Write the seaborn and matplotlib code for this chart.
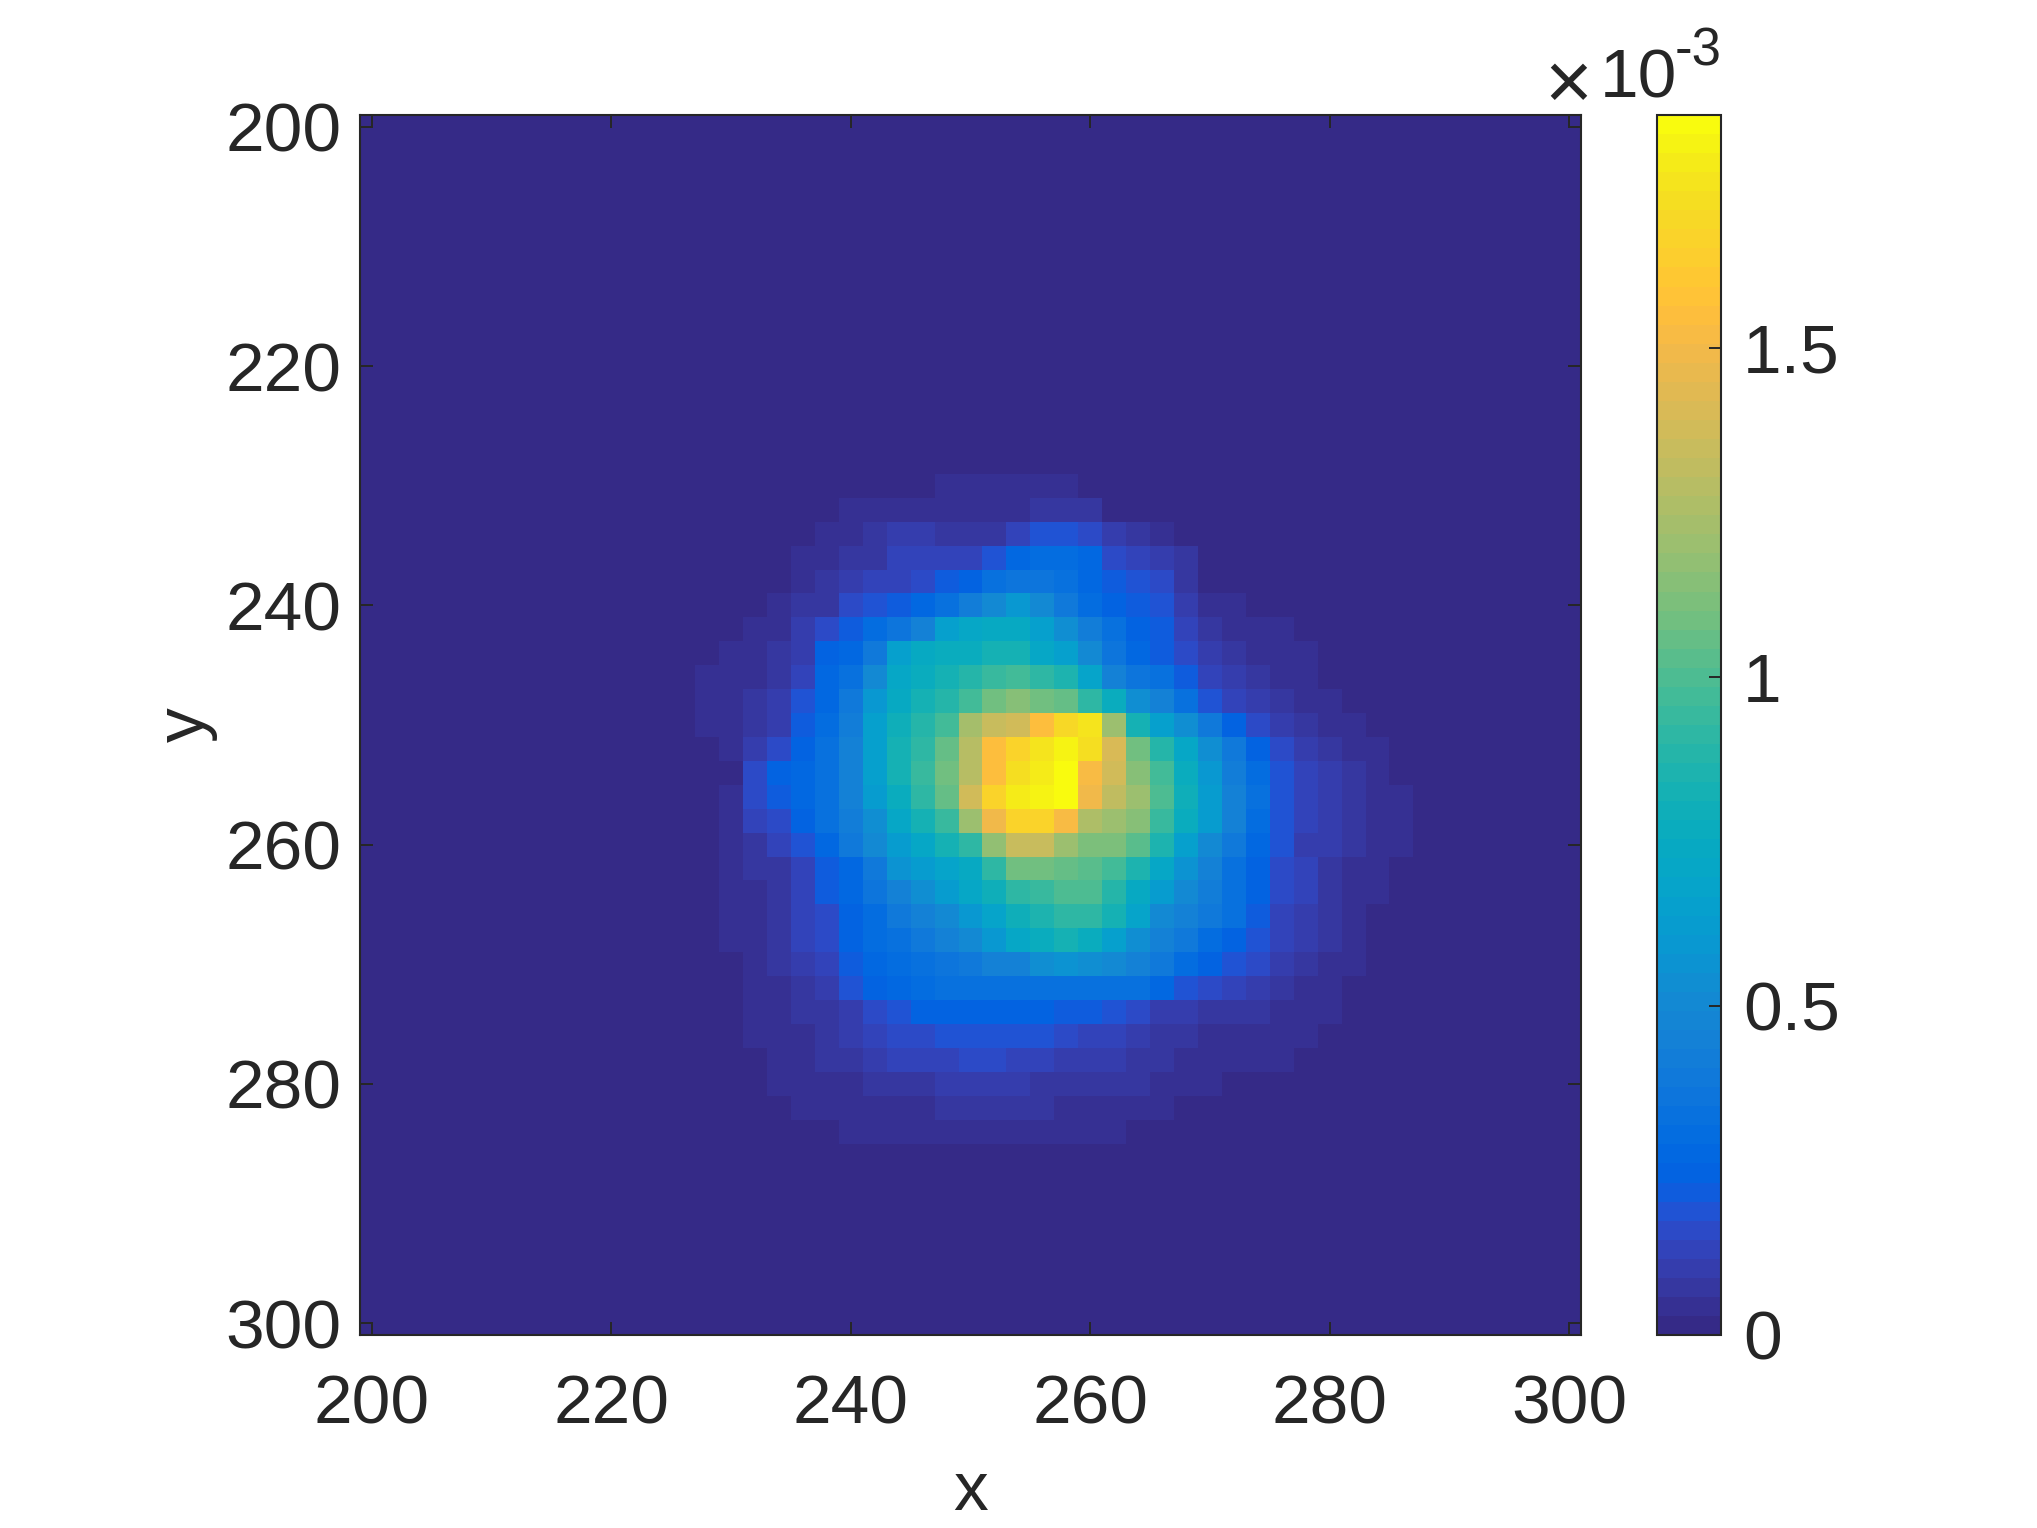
import numpy as np
import pandas as pd
import matplotlib
matplotlib.use("Agg")
import matplotlib.pyplot as plt
from matplotlib.colors import ListedColormap
import seaborn as sns

# cell centres of the image (2 unit cells, whole axis)
x_cells = list(range(200, 301, 2))
y_cells = list(range(200, 301, 2))

# part of the image that is not background (unit 1e-5)
core_x = list(range(228, 287, 2))
core_y = list(range(228, 287, 2))
core_values = [
    [0,0,0,0,0,0,0,0,0,0,0,0,0,0,0,0,0,0,0,0,0,0,0,0,0,0,0,0,0,0],
    [0,0,0,0,0,0,0,0,0,0,4,4,4,4,4,3,0,0,0,0,0,0,0,0,0,0,0,0,0,0],
    [0,0,0,0,0,0,4,4,5,5,4,4,4,5,7,7,6,2,0,0,0,0,0,0,0,0,0,0,0,0],
    [0,0,0,0,0,4,4,7,10,10,7,7,8,12,19,19,16,10,7,4,0,0,0,0,0,0,0,0,0,0],
    [0,0,0,0,4,4,7,8,13,13,13,13,19,28,31,31,28,16,13,10,6,0,0,0,0,0,0,0,0,0],
    [0,0,0,0,4,6,10,12,14,16,22,26,33,36,36,33,28,22,19,16,8,0,0,0,0,0,0,0,0,0],
    [0,0,0,4,6,8,16,18,22,28,33,42,52,58,50,40,31,25,22,19,11,4,4,0,0,0,0,0,0,0],
    [0,0,4,5,11,16,22,30,36,46,65,70,74,74,66,54,42,32,26,22,14,7,4,4,4,0,0,0,0,0],
    [2,4,4,6,10,25,28,38,65,75,76,78,82,83,72,64,50,36,28,22,16,11,7,5,4,3,0,0,0,0],
    [4,4,5,7,14,28,34,52,70,78,82,88,95,98,92,86,68,46,36,32,22,14,10,7,5,4,0,0,0,0],
    [4,4,7,9,18,27,40,60,74,82,88,98,108,113,110,106,90,76,55,46,34,19,13,9,6,5,3,0,0,0],
    [4,5,8,11,22,31,42,66,80,88,98,122,135,139,155,170,176,120,82,66,54,40,25,16,10,7,5,3,0,0],
    [2,4,11,15,25,32,46,66,82,92,106,128,155,166,176,182,173,140,110,88,72,54,40,25,16,10,7,5,3,0],
    [0,2,16,24,27,33,46,65,82,94,110,130,155,171,178,184,152,138,114,96,76,58,42,29,19,13,9,7,5,0],
    [0,3,16,22,28,34,46,62,77,90,106,138,168,177,182,185,150,132,120,100,80,62,46,32,20,12,10,7,4,3],
    [0,4,13,17,25,32,42,54,70,82,95,120,150,166,167,152,125,120,114,95,77,62,46,30,20,12,9,7,5,3],
    [0,4,8,12,20,28,38,50,62,72,82,92,118,136,135,120,112,112,102,86,64,52,40,28,19,10,9,7,5,3],
    [0,3,6,8,13,22,28,40,56,62,68,75,90,108,108,106,104,97,85,72,56,44,34,25,16,13,8,5,3,2],
    [0,3,5,8,14,22,27,36,46,54,62,70,80,90,95,100,100,88,75,62,50,42,33,24,16,13,8,5,4,0],
    [0,3,4,7,12,17,25,30,38,45,50,60,68,79,86,92,92,82,68,52,46,40,34,22,14,10,7,3,0,0],
    [2,4,4,7,13,17,24,30,34,40,46,50,58,71,76,82,78,66,54,46,38,30,26,18,12,9,6,3,0,0],
    [0,2,4,6,9,13,22,27,30,34,37,40,46,46,54,56,54,50,44,40,30,26,18,15,9,7,5,3,0,0],
    [0,2,4,5,8,11,18,26,28,30,32,32,33,33,34,34,34,33,32,28,18,16,13,9,7,5,3,0,0,0],
    [0,0,3,4,6,7,11,16,18,24,26,26,26,26,26,22,22,20,16,9,9,8,7,6,4,4,3,0,0,0],
    [0,0,3,4,5,6,9,12,15,16,19,19,19,19,18,15,14,13,10,6,6,5,4,4,4,3,2,0,0,0],
    [0,0,2,4,4,6,7,10,12,13,14,15,15,14,13,11,9,9,7,6,4,4,4,4,3,0,0,0,0,0],
    [0,0,0,3,4,4,5,6,7,8,9,10,11,10,8,8,7,7,6,5,4,3,0,0,0,0,0,0,0,0],
    [0,0,0,0,3,4,4,4,4,4,6,7,7,7,6,5,4,4,4,3,0,0,0,0,0,0,0,0,0,0],
    [0,0,0,0,0,0,3,4,4,4,4,4,4,4,4,4,4,3,0,0,0,0,0,0,0,0,0,0,0,0],
    [0,0,0,0,0,0,0,0,2,2,2,0,2,2,2,2,0,0,0,0,0,0,0,0,0,0,0,0,0,0],
]
value_unit = 1e-5
color_max = 1.854e-3

x_ticks = [200, 220, 240, 260, 280, 300]
y_ticks = [200, 220, 240, 260, 280, 300]
cbar_ticks = [0, 0.5e-3, 1e-3, 1.5e-3]
cbar_labels = ["0", "0.5", "1", "1.5"]

# parula, 64 steps
parula_colors = [
    [0.2081, 0.1663, 0.5292], [0.2116, 0.1898, 0.5777], [0.2123, 0.2138, 0.6270], [0.2081, 0.2386, 0.6771],
    [0.1959, 0.2645, 0.7279], [0.1707, 0.2919, 0.7792], [0.1253, 0.3242, 0.8303], [0.0591, 0.3598, 0.8683],
    [0.0117, 0.3875, 0.8820], [0.0060, 0.4086, 0.8828], [0.0165, 0.4266, 0.8786], [0.0329, 0.4430, 0.8720],
    [0.0498, 0.4586, 0.8641], [0.0629, 0.4737, 0.8554], [0.0723, 0.4887, 0.8467], [0.0779, 0.5040, 0.8384],
    [0.0793, 0.5200, 0.8312], [0.0749, 0.5375, 0.8263], [0.0641, 0.5570, 0.8240], [0.0488, 0.5772, 0.8228],
    [0.0343, 0.5966, 0.8199], [0.0265, 0.6137, 0.8135], [0.0239, 0.6287, 0.8038], [0.0231, 0.6418, 0.7913],
    [0.0228, 0.6535, 0.7768], [0.0267, 0.6642, 0.7607], [0.0384, 0.6743, 0.7436], [0.0590, 0.6838, 0.7254],
    [0.0843, 0.6928, 0.7062], [0.1133, 0.7015, 0.6859], [0.1453, 0.7098, 0.6646], [0.1801, 0.7177, 0.6424],
    [0.2178, 0.7250, 0.6193], [0.2586, 0.7317, 0.5954], [0.3022, 0.7376, 0.5712], [0.3482, 0.7424, 0.5473],
    [0.3953, 0.7459, 0.5244], [0.4420, 0.7481, 0.5033], [0.4871, 0.7491, 0.4840], [0.5300, 0.7491, 0.4661],
    [0.5709, 0.7485, 0.4494], [0.6099, 0.7473, 0.4337], [0.6473, 0.7456, 0.4188], [0.6834, 0.7435, 0.4044],
    [0.7184, 0.7411, 0.3905], [0.7525, 0.7384, 0.3768], [0.7858, 0.7356, 0.3633], [0.8185, 0.7327, 0.3498],
    [0.8507, 0.7299, 0.3360], [0.8824, 0.7274, 0.3217], [0.9139, 0.7258, 0.3063], [0.9450, 0.7261, 0.2886],
    [0.9739, 0.7314, 0.2666], [0.9938, 0.7455, 0.2403], [0.9990, 0.7653, 0.2164], [0.9955, 0.7861, 0.1967],
    [0.9880, 0.8066, 0.1794], [0.9789, 0.8271, 0.1633], [0.9697, 0.8481, 0.1475], [0.9626, 0.8705, 0.1309],
    [0.9589, 0.8949, 0.1132], [0.9598, 0.9218, 0.0948], [0.9661, 0.9514, 0.0755], [0.9763, 0.9831, 0.0538],
]

sns.set_theme(style="white")
plt.rcParams["font.family"] = ["Liberation Sans", "DejaVu Sans"]
text_color = "#262626"
W, H = 2037, 1528

# put the typed part into the full grid
density = pd.DataFrame(0.0, index=y_cells, columns=x_cells)
density.loc[core_y, core_x] = np.array(core_values) * value_unit

fig = plt.figure(figsize=(W / 100, H / 100), dpi=100)
ax = fig.add_axes([360 / W, 1 - 1335 / H, 1221 / W, 1220 / H])
cax = fig.add_axes([1657 / W, 1 - 1335 / H, 64 / W, 1220 / H])

sns.heatmap(density, ax=ax, cbar_ax=cax, cmap=ListedColormap(parula_colors), vmin=0, vmax=color_max,
            xticklabels=False, yticklabels=False)

# heatmap cells run from 199 to 301, so a value sits at (v - 199) / 2
ax.set_xticks([(v - 199) / 2 for v in x_ticks])
ax.set_yticks([(v - 199) / 2 for v in y_ticks])
ax.set_xticklabels(x_ticks)
ax.set_yticklabels(y_ticks, rotation=0)
ax.set_axisbelow(False)
ax.tick_params(axis="x", direction="in", length=9.5, width=1.4, color=text_color, labelcolor=text_color,
               labelsize=50, top=True, bottom=True, pad=28)
ax.tick_params(axis="y", direction="in", length=9.5, width=1.4, color=text_color, labelcolor=text_color,
               labelsize=50, left=True, right=True, pad=13)
for side in ax.spines.values():
    side.set_visible(True)
    side.set_color(text_color)
    side.set_linewidth(1.5)
ax.set_xlabel("x", fontsize=50, color=text_color, labelpad=16)
ax.set_ylabel("y", fontsize=50, color=text_color, labelpad=6)

cbar = ax.collections[0].colorbar
cbar.set_ticks(cbar_ticks)
cbar.set_ticklabels(cbar_labels)
cbar.outline.set_visible(True)
cbar.outline.set_linewidth(1.5)
cbar.outline.set_edgecolor(text_color)
cax.set_axisbelow(False)
cax.tick_params(direction="in", length=9, width=1.4, color=text_color, labelcolor=text_color,
                labelsize=50, right=True, left=False, pad=16)
cax.minorticks_off()

# scale factor over the colorbar
fig.text(1568 / W, 1 - 109 / H, "\u00d7", fontsize=59, color=text_color, ha="center", va="baseline")
fig.text(1600 / W, 1 - 98 / H, "10", fontsize=50, color=text_color, ha="left", va="baseline")
fig.text(1675 / W, 1 - 65 / H, "-3", fontsize=38, color=text_color, ha="left", va="baseline")

fig.savefig("out.png", dpi=100)
